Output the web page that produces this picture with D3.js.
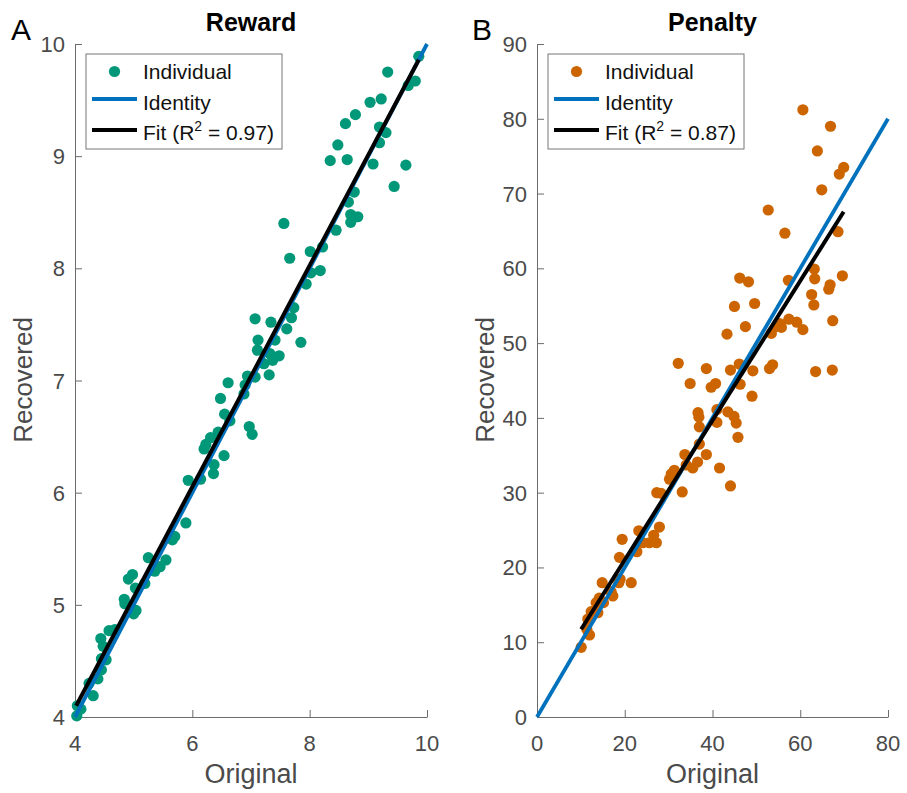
<!DOCTYPE html>
<html>
<head>
<meta charset="utf-8">
<script src="https://cdn.jsdelivr.net/npm/d3@7"></script>
<style>
  body { margin: 0; background: #fff; }
  svg { display: block; font-family: "Liberation Sans", Arial, Helvetica, sans-serif; }
</style>
</head>
<body>
<div id="chart"></div>
<script>
// Reward panel (A)
var rewardOriginal = [4.03,4.04,4.10,4.31,4.24,4.39,4.45,4.45,4.53,4.48,4.44,4.58,4.68,4.84,4.85,5.04,5.00,4.91,4.98,5.03,
  5.19,5.25,5.36,5.45,5.55,5.66,5.70,5.89,5.93,6.14,6.36,6.37,6.20,6.23,6.31,6.44,6.54,6.55,6.64,6.48,
  6.97,7.02,6.61,6.88,6.90,6.94,7.07,7.31,7.22,7.11,7.12,7.32,7.37,7.48,7.41,7.34,7.07,7.61,7.69,7.73,
  7.85,7.66,7.94,8.02,8.18,8.01,7.56,8.22,8.45,8.70,8.82,8.70,8.66,8.76,8.35,8.64,8.48,9.08,9.44,9.64,
  8.61,8.78,9.03,9.22,9.19,9.30,9.19,9.33,9.68,9.80,9.86];
var rewardRecovered = [4.01,4.10,4.07,4.19,4.30,4.34,4.42,4.52,4.51,4.63,4.70,4.77,4.78,5.05,5.01,4.95,4.92,5.23,5.27,5.15,
  5.19,5.42,5.30,5.34,5.40,5.58,5.61,5.73,6.11,6.12,6.17,6.25,6.39,6.43,6.49,6.54,6.33,6.70,6.64,6.84,
  6.59,6.52,6.98,6.88,6.96,7.04,7.03,7.05,7.15,7.27,7.36,7.24,7.18,7.22,7.36,7.52,7.55,7.46,7.56,7.65,
  7.34,8.09,7.86,7.96,7.98,8.15,8.40,8.19,8.34,8.48,8.46,8.41,8.59,8.68,8.96,8.97,9.10,8.93,8.73,8.92,
  9.29,9.37,9.48,9.51,9.26,9.21,9.12,9.75,9.63,9.67,9.89];
var rewardXTicks = [4, 6, 8, 10];
var rewardYTicks = [4, 5, 6, 7, 8, 9, 10];
var rewardIdentity = [4, 10];
var rewardFitX = [4.02, 9.86];
var rewardFitY = [4.10, 9.86];

// Penalty panel (B)
var penaltyOriginal = [10.07,11.97,11.35,12.35,11.58,13.87,13.49,15.16,14.2,14.86,17.28,16.9,18.65,18.95,21.47,18.8,19.41,22.76,23.2,24.1,
  25.6,27.2,26.6,27.9,27.3,28.3,33.1,30.2,30.6,31.3,33.7,34.0,35.5,36.6,38.6,37.0,41.6,44.1,37.0,36.9,
  36.7,41.0,41.0,43.5,44.9,45.4,45.8,49.0,46.3,34.9,39.7,40.7,32.2,38.6,44.1,46.1,49.2,53.0,53.7,43.3,
  47.5,45.0,49.6,53.4,54.5,55.3,55.7,57.4,59.2,60.6,67.4,62.6,63.1,63.3,63.2,66.8,66.5,69.6,57.3,46.2,
  48.2,56.5,68.6,52.7,64.9,69.9,68.9,63.9,66.9,60.6,63.5,67.3];
var penaltyRecovered = [9.32,10.97,11.73,14.08,13.1,13.95,15.29,15.29,15.9,17.96,16.18,16.76,17.96,18.41,17.96,21.35,23.76,22.1,24.9,23.3,
  23.3,23.3,24.3,25.4,30.0,29.9,30.1,31.8,32.5,33.0,35.1,33.7,33.3,34.1,35.1,36.5,33.3,30.9,38.8,40.1,
  40.7,39.4,41.1,40.8,40.2,39.3,37.4,42.9,44.5,44.6,44.1,44.6,47.3,46.6,46.4,47.2,46.3,46.6,47.1,51.2,
  52.2,54.9,55.3,51.3,52.2,52.6,52.1,53.2,52.8,51.8,53.0,56.5,55.1,58.6,59.9,57.8,57.2,59.0,58.4,58.7,
  58.2,64.7,64.9,67.8,70.5,73.5,72.6,75.7,79.0,81.2,46.2,46.4];
var penaltyXTicks = [0, 20, 40, 60, 80];
var penaltyYTicks = [0, 10, 20, 30, 40, 50, 60, 70, 80, 90];
var penaltyIdentity = [0, 80];
var penaltyFitX = [10.07, 69.9];
var penaltyFitY = [11.73, 67.57];

var W = 907, H = 793;
var svg = d3.select('#chart').append('svg')
  .attr('width', W)
  .attr('height', H);

var axisColor = '#6b6b6b';
var textColor = '#4a4a4a';
var blue = '#0072BD';

function drawPanel(p) {
  var x = d3.scaleLinear().domain(p.xDomain).range([p.left, p.right]);
  var y = d3.scaleLinear().domain(p.yDomain).range([717, 44]);
  var g = svg.append('g');

  // axes, MATLAB style: ticks pointing inward, no box
  var xAxis = g.append('g')
    .attr('transform', 'translate(0,717)')
    .call(d3.axisTop(x).tickValues(p.xTicks).tickSize(7).tickSizeOuter(0).tickFormat(''));
  var yAxis = g.append('g')
    .attr('transform', 'translate(' + p.left + ',0)')
    .call(d3.axisRight(y).tickValues(p.yTicks).tickSize(7).tickSizeOuter(0).tickFormat(''));
  [xAxis, yAxis].forEach(function(a) {
    a.select('.domain').attr('stroke', axisColor).attr('stroke-width', 1);
    a.selectAll('.tick line').attr('stroke', axisColor).attr('stroke-width', 1);
  });

  g.selectAll('.xlab').data(p.xTicks).enter().append('text')
    .attr('x', function(d) { return x(d); })
    .attr('y', 751)
    .attr('text-anchor', 'middle')
    .attr('font-size', 22)
    .attr('fill', textColor)
    .text(function(d) { return d; });
  g.selectAll('.ylab').data(p.yTicks).enter().append('text')
    .attr('x', p.left - 10)
    .attr('y', function(d) { return y(d) + 8; })
    .attr('text-anchor', 'end')
    .attr('font-size', 22)
    .attr('fill', textColor)
    .text(function(d) { return d; });

  // points
  var pts = p.xs.map(function(v, i) { return [v, p.ys[i]]; });
  g.append('g').selectAll('circle').data(pts).enter().append('circle')
    .attr('cx', function(d) { return x(d[0]); })
    .attr('cy', function(d) { return y(d[1]); })
    .attr('r', 5.6)
    .attr('fill', p.color);

  var line = d3.line().x(function(d) { return x(d[0]); }).y(function(d) { return y(d[1]); });
  g.append('path')
    .datum(p.identity.map(function(v) { return [v, v]; }))
    .attr('d', line).attr('fill', 'none').attr('stroke', blue).attr('stroke-width', 3.8);
  g.append('path')
    .datum(p.fitX.map(function(v, i) { return [v, p.fitY[i]]; }))
    .attr('d', line).attr('fill', 'none').attr('stroke', '#000').attr('stroke-width', 4);

  // titles and labels
  var cx = (p.left + p.right) / 2;
  g.append('text').attr('x', cx).attr('y', 31).attr('text-anchor', 'middle')
    .attr('font-size', 25).attr('font-weight', 'bold').attr('fill', '#000').text(p.title);
  g.append('text').attr('x', p.letterX).attr('y', 40)
    .attr('font-size', 30).attr('fill', '#000').text(p.letter);
  g.append('text').attr('x', cx).attr('y', 783).attr('text-anchor', 'middle')
    .attr('font-size', 27).attr('fill', textColor).text('Original');
  g.append('text')
    .attr('transform', 'translate(' + (p.left - 43) + ',380) rotate(-90)')
    .attr('text-anchor', 'middle')
    .attr('font-size', 26).attr('fill', textColor).text('Recovered');

  // legend
  var lx = p.left + 11, ly = 54;
  var leg = g.append('g').attr('transform', 'translate(' + lx + ',' + ly + ')');
  leg.append('rect').attr('x', 0).attr('y', 0).attr('width', 196).attr('height', 95)
    .attr('fill', '#fff').attr('stroke', '#777').attr('stroke-width', 1);
  leg.append('circle').attr('cx', 28.5).attr('cy', 17.5).attr('r', 5.6).attr('fill', p.color);
  leg.append('line').attr('x1', 6).attr('x2', 51).attr('y1', 45).attr('y2', 45)
    .attr('stroke', blue).attr('stroke-width', 3.8);
  leg.append('line').attr('x1', 6).attr('x2', 51).attr('y1', 76).attr('y2', 76)
    .attr('stroke', '#000').attr('stroke-width', 4);
  var labels = ['Individual', 'Identity'];
  labels.forEach(function(t, i) {
    leg.append('text').attr('x', 57).attr('y', 25 + i * 30.5)
      .attr('font-size', 21).attr('fill', '#111').text(t);
  });
  var fitText = leg.append('text').attr('x', 57).attr('y', 86)
    .attr('font-size', 21).attr('fill', '#111');
  fitText.append('tspan').text('Fit (R');
  fitText.append('tspan').attr('font-size', 14).attr('dy', -9).text('2');
  fitText.append('tspan').attr('dy', 9).text(' = ' + p.r2 + ')');
}

drawPanel({
  left: 75, right: 427, xDomain: [4, 10], yDomain: [4, 10],
  xTicks: rewardXTicks, yTicks: rewardYTicks,
  xs: rewardOriginal, ys: rewardRecovered, color: '#009878',
  identity: rewardIdentity, fitX: rewardFitX, fitY: rewardFitY,
  title: 'Reward', letter: 'A', letterX: 11, r2: '0.97'
});
drawPanel({
  left: 537, right: 888, xDomain: [0, 80], yDomain: [0, 90],
  xTicks: penaltyXTicks, yTicks: penaltyYTicks,
  xs: penaltyOriginal, ys: penaltyRecovered, color: '#CC6500',
  identity: penaltyIdentity, fitX: penaltyFitX, fitY: penaltyFitY,
  title: 'Penalty', letter: 'B', letterX: 472, r2: '0.87'
});
</script>
</body>
</html>
